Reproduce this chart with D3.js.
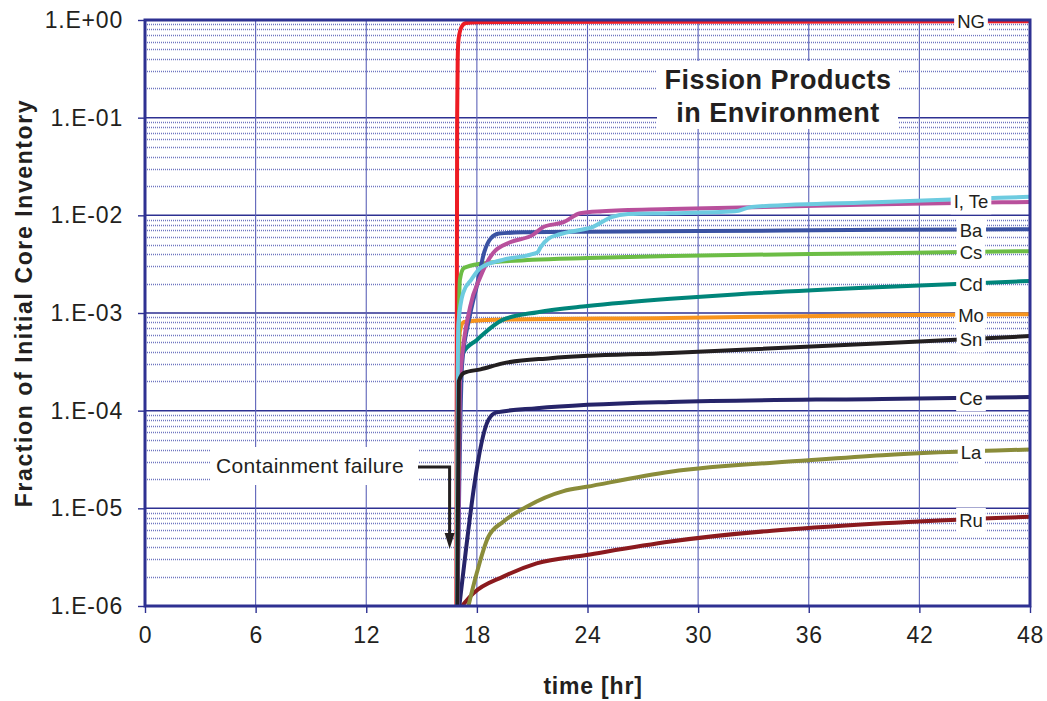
<!DOCTYPE html>
<html><head><meta charset="utf-8">
<script src="https://cdn.jsdelivr.net/npm/d3@7"></script>
<style>
body{margin:0;background:#fff}
svg{display:block;font-family:Arial,"Liberation Sans",Helvetica,sans-serif}
</style></head>
<body><svg id="chart" width="1047" height="701"></svg>
<script>
// ---------- data ----------
const xTicks = [0, 6, 12, 18, 24, 30, 36, 42, 48];
const yTicks = [1e-6, 1e-5, 1e-4, 1e-3, 1e-2, 1e-1, 1];
const yTickLabels = ["1.E-06", "1.E-05", "1.E-04", "1.E-03", "1.E-02", "1.E-01", "1.E+00"];
const titleLines = ["Fission Products", "in Environment"];
const xTitle = "time [hr]";
const yTitle = "Fraction of Initial Core Inventory";
const annotationText = "Containment failure";
const failureTime = 16.9;

// series: [time (hr), fraction]
const NG = [[16.88,1e-7],[16.93,0.1],[16.96,0.4],[17.0,0.62],[17.17,0.85],[17.4,0.93],[18,0.95],[30,0.96],[48,0.97]];
const ITe_cyan = [[16.93,1e-6],[16.96,2e-4],[17.0,7.9e-4],[17.25,1.6e-3],[17.7,2.2e-3],[18.2,2.9e-3],[19.4,3.5e-3],[21.0,4.0e-3],[21.3,4.2e-3],[21.45,4.7e-3],[21.9,5.8e-3],[22.5,6.4e-3],[23.8,7.2e-3],[24.2,7.5e-3],[25.3,9.6e-3],[26.2,1.03e-2],[28.5,1.05e-2],[32,1.1e-2],[32.9,1.22e-2],[40,1.37e-2],[48,1.55e-2]];
const ITe_mag = [[16.95,1e-6],[17.08,2.0e-4],[17.63,1.15e-3],[18.17,2.3e-3],[18.87,4.1e-3],[19.8,5.3e-3],[21.04,6.3e-3],[21.6,7.6e-3],[22.7,8.5e-3],[23.6,1.05e-2],[24.8,1.1e-2],[28.5,1.16e-2],[40,1.3e-2],[48,1.37e-2]];
const Ba = [[16.95,1e-6],[17.05,2e-5],[17.2,3e-4],[17.6,9e-4],[18.0,1.9e-3],[18.4,4.2e-3],[18.75,5.8e-3],[19.2,6.5e-3],[20.5,6.7e-3],[24,6.8e-3],[30,6.9e-3],[40,7.1e-3],[48,7.2e-3]];
const Cs = [[16.93,1e-6],[16.98,1e-4],[17.08,2.2e-3],[17.3,2.9e-3],[18.2,3.2e-3],[21,3.5e-3],[24,3.65e-3],[28.5,3.84e-3],[40,4.1e-3],[48,4.3e-3]];
const Cd = [[16.94,1e-6],[16.98,2.4e-4],[17.25,3.9e-4],[18.0,5.3e-4],[19.4,8.5e-4],[21.3,1.02e-3],[24,1.18e-3],[28.5,1.4e-3],[32,1.55e-3],[40,1.85e-3],[48,2.13e-3]];
const Mo = [[16.93,1e-6],[16.98,1e-4],[17.08,6.5e-4],[17.3,8.1e-4],[18.5,8.5e-4],[28.5,8.9e-4],[40,9.5e-4],[48,9.7e-4]];
const Sn = [[16.94,1e-6],[17.02,2.0e-4],[17.3,2.44e-4],[18.2,2.65e-4],[19.4,3.05e-4],[22,3.45e-4],[28.5,3.9e-4],[40,4.9e-4],[48,5.8e-4]];
const Ce = [[17.05,1e-6],[18.62,8.0e-5],[19.07,9.6e-5],[21.24,1.06e-4],[28.5,1.23e-4],[40,1.32e-4],[48,1.38e-4]];
const La = [[17.54,1e-6],[17.99,2.16e-6],[18.62,5.1e-6],[19.43,7.3e-6],[20.7,1.04e-5],[22.7,1.5e-5],[23.95,1.66e-5],[28.5,2.37e-5],[36,3.1e-5],[40,3.5e-5],[48,4.0e-5]];
const Ru = [[17.0,9e-7],[17.81,1.35e-6],[19.43,2.0e-6],[21.24,2.73e-6],[23.95,3.33e-6],[28.5,4.57e-6],[40,7.03e-6],[48,8.2e-6]];

const series = [
  {name:"NG", data:NG, color:"#ed1c24", w:4},
  {name:"Ru", data:Ru, color:"#8b1a1e", w:4},
  {name:"La", data:La, color:"#8a8c3a", w:4},
  {name:"Ce", data:Ce, color:"#262469", w:4},
  {name:"Mo", data:Mo, color:"#f7941d", w:4},
  {name:"Cd", data:Cd, color:"#00857a", w:4},
  {name:"Cs", data:Cs, color:"#6cbd45", w:4},
  {name:"Ba", data:Ba, color:"#3a52a3", w:4},
  {name:"I, Te", data:ITe_mag, color:"#b8509c", w:4},
  {name:"I, Te", data:ITe_cyan, color:"#6dcbe0", w:4},
  {name:"Sn", data:Sn, color:"#231f20", w:4}
];
const labels = [
  {text:"NG", from:[NG]},
  {text:"I, Te", from:[ITe_cyan, ITe_mag]},
  {text:"Ba", from:[Ba]},
  {text:"Cs", from:[Cs]},
  {text:"Cd", from:[Cd]},
  {text:"Mo", from:[Mo]},
  {text:"Sn", from:[Sn]},
  {text:"Ce", from:[Ce]},
  {text:"La", from:[La]},
  {text:"Ru", from:[Ru]}
];
const labelTime = 44.8;

// ---------- layout ----------
const W = 1047, H = 701;
const m = {left:145, right:1030, top:20, bottom:606};
const x = d3.scaleLinear().domain([0,48]).range([m.left, m.right]);
const y = d3.scaleLog().domain([1e-6,1]).range([m.bottom, m.top]);

const svg = d3.select("#chart");
svg.append("rect").attr("width",W).attr("height",H).attr("fill","#fff");

const grid = svg.append("g");
const minor = [];
for (let e = -6; e < 0; e++) for (let k = 2; k <= 9; k++) minor.push(k * Math.pow(10, e));
grid.selectAll(".minor").data(minor).join("line")
  .attr("x1", m.left).attr("x2", m.right)
  .attr("y1", d => Math.round(y(d)) + 0.5).attr("y2", d => Math.round(y(d)) + 0.5)
  .attr("stroke", "#3f47ab").attr("stroke-opacity", 0.75).attr("stroke-width", 1.3).attr("stroke-dasharray", "1,1");
grid.selectAll(".major").data(yTicks).join("line")
  .attr("x1", m.left).attr("x2", m.right)
  .attr("y1", d => y(d)).attr("y2", d => y(d))
  .attr("stroke", "#2e3192").attr("stroke-width", 1.5);
grid.selectAll(".vert").data(xTicks.slice(1, -1)).join("line")
  .attr("x1", d => x(d)).attr("x2", d => x(d))
  .attr("y1", m.top).attr("y2", m.bottom)
  .attr("stroke", "#5c62b8").attr("stroke-width", 1.1);

// axes
const yAxis = d3.axisLeft(y).tickValues(yTicks)
  .tickFormat((d,i) => yTickLabels[i]).tickSize(7).tickPadding(15);
const gy = svg.append("g").attr("transform", `translate(${m.left},0)`).call(yAxis);
gy.select(".domain").remove();
gy.selectAll(".tick line").attr("stroke", "#2e3192").attr("stroke-width", 1.4);
gy.selectAll(".tick text").attr("font-size", 23).attr("letter-spacing", "0.8px")
  .attr("fill", "#231f20").attr("font-family", "Arial, 'Liberation Sans', sans-serif");

const xAxis = d3.axisBottom(x).tickValues(xTicks).tickSize(7).tickPadding(14);
const gx = svg.append("g").attr("transform", `translate(0,${m.bottom})`).call(xAxis);
gx.select(".domain").remove();
gx.selectAll(".tick line").attr("stroke", "#2e3192").attr("stroke-width", 1.4);
gx.selectAll(".tick text").attr("font-size", 23).attr("letter-spacing", "0.6px")
  .attr("fill", "#231f20").attr("font-family", "Arial, 'Liberation Sans', sans-serif");

svg.append("text").attr("x", 593).attr("y", 694).attr("text-anchor", "middle")
  .attr("font-size", 23).attr("font-weight", "bold").attr("letter-spacing", "0.8px")
  .attr("fill", "#231f20").text(xTitle);
svg.append("text").attr("transform", "translate(32,303) rotate(-90)").attr("text-anchor", "middle")
  .attr("font-size", 23).attr("font-weight", "bold").attr("letter-spacing", "1.6px")
  .attr("fill", "#231f20").text(yTitle);

svg.append("clipPath").attr("id", "clip").append("rect")
  .attr("x", m.left).attr("y", m.top).attr("width", m.right - m.left).attr("height", m.bottom - m.top);

const line = d3.line().x(d => x(d[0])).y(d => y(d[1])).curve(d3.curveMonotoneX);
const lines = svg.append("g").attr("clip-path", "url(#clip)");
lines.selectAll("path").data(series).join("path")
  .attr("d", d => line(d.data)).attr("fill", "none")
  .attr("stroke", d => d.color).attr("stroke-width", d => d.w)
  .attr("stroke-linejoin", "round").attr("stroke-linecap", "butt");

svg.append("rect").attr("x", m.left).attr("y", m.top)
  .attr("width", m.right - m.left).attr("height", m.bottom - m.top)
  .attr("fill", "none").attr("stroke", "#2e3192").attr("stroke-width", 3);

const tb = svg.append("g");
tb.append("rect").attr("x", 657).attr("y", 61).attr("width", 241).attr("height", 68).attr("fill", "#fff");
tb.selectAll("text").data(titleLines).join("text")
  .attr("x", 778).attr("y", (d,i) => 89 + i * 33).attr("text-anchor", "middle")
  .attr("font-size", 27).attr("font-weight", "bold").attr("letter-spacing", "0.5px")
  .attr("fill", "#231f20").text(d => d);

function valueAt(data, t) {
  for (let i = 1; i < data.length; i++) {
    if (data[i][0] >= t) {
      const a = data[i-1], b = data[i];
      const f = (t - a[0]) / (b[0] - a[0]);
      return Math.pow(10, Math.log10(a[1]) + f * (Math.log10(b[1]) - Math.log10(a[1])));
    }
  }
  return data[data.length-1][1];
}
const lg = svg.append("g");
labels.forEach(l => {
  const lv = d3.mean(l.from, s => Math.log10(valueAt(s, labelTime)));
  let cy = y(Math.pow(10, lv)) + 1;
  if (l.text === "NG") cy = 22;
  const g = lg.append("g");
  const t = g.append("text").attr("x", x(labelTime)).attr("y", cy).attr("dy", "0.35em")
    .attr("text-anchor", "middle").attr("font-size", 18.5).attr("fill", "#231f20").text(l.text);
  const bb = t.node().getBBox();
  g.insert("rect", "text").attr("x", bb.x - 3).attr("y", bb.y - 2)
    .attr("width", bb.width + 6).attr("height", bb.height + 4).attr("fill", "#fff");
});

const ag = svg.append("g");
ag.append("rect").attr("x", 210).attr("y", 447).attr("width", 208).attr("height", 38).attr("fill", "#fff");
ag.append("text").attr("x", 310).attr("y", 473).attr("text-anchor", "middle")
  .attr("font-size", 21).attr("letter-spacing", "0.3px").attr("fill", "#231f20").text(annotationText);
const ax = x(failureTime) - 7;
ag.append("path")
  .attr("d", `M418,467 H${ax} V535`)
  .attr("fill", "none").attr("stroke", "#231f20").attr("stroke-width", 3);
ag.append("path")
  .attr("d", `M${ax-5},533 L${ax+5},533 L${ax},549 Z`).attr("fill", "#231f20");
</script></body></html>
